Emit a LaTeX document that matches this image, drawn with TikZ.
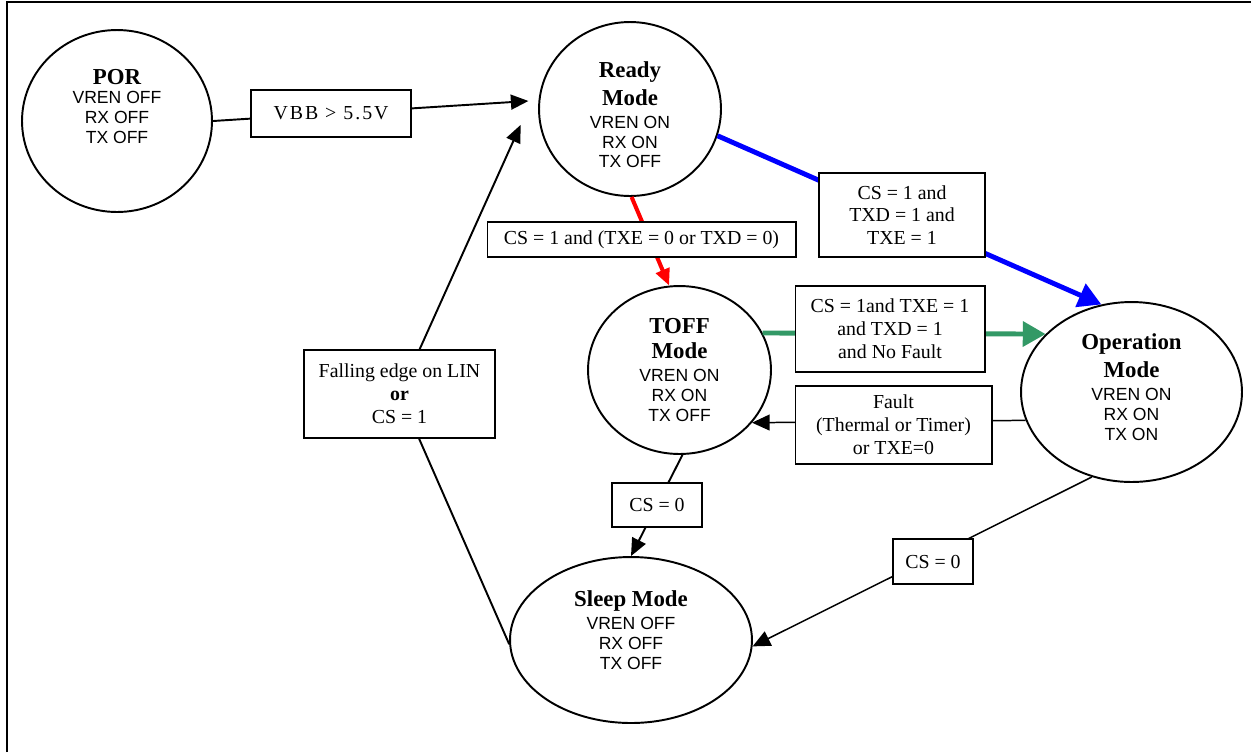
\documentclass[tikz,border=0pt]{standalone}
\usepackage{fontspec}
\setmainfont{Liberation Serif}
\newfontfamily\arial{Liberation Sans}
\usetikzlibrary{arrows.meta, shapes.geometric, calc}
\definecolor{opgreen}{RGB}{51,153,102}
\tikzset{st/.style = {ellipse, draw, line width=1.1pt, inner sep=0pt, align=center, font=\arial\fontsize{10}{11.2}\selectfont}}
\tikzset{lbl/.style = {rectangle, draw, line width=0.6pt, fill=white, inner sep=0pt, align=center, font=\fontsize{11.3}{13}\selectfont}}
\tikzset{tr/.style = {-{Triangle[length=10pt,width=8.5pt]}, line width=1.1pt}}
\tikzset{trthin/.style = {-{Triangle[length=10pt,width=9pt]}, line width=0.85pt}}
\tikzset{trbig/.style = {-{Triangle[length=13pt,width=14pt]}, line width=2.8pt}}
\newcommand{\sthead}[1]{{\rmfamily\bfseries\fontsize{13}{15}\selectfont #1}}

\begin{document}
\begin{tikzpicture}[x=0.02cm, y=-0.02cm]
\useasboundingbox (0,0) rectangle (1251,752);
\draw[line width=1.2pt] (7,752) -- (7,2) -- (1251,2);

\node[st, minimum width=3.8cm, minimum height=3.64cm] (por) at (117,121) {\sthead{POR}\\VREN OFF\\RX OFF\\TX OFF\rule[-0.6cm]{0pt}{0.6cm}};
\node[st, minimum width=3.64cm, minimum height=3.48cm] (rdy) at (630,109) {\rule{0pt}{0.55cm}\sthead{Ready}\\[3pt]\sthead{Mode}\\[2pt]VREN ON\\RX ON\\TX OFF};
\node[st, minimum width=3.66cm, minimum height=3.36cm] (toff) at (679.5,370) {\sthead{TOFF}\\[3pt]\sthead{Mode}\\[2pt]VREN ON\\RX ON\\TX OFF};
\node[st, minimum width=4.42cm, minimum height=3.6cm] (oper) at (1131.5,392) {\sthead{Operation}\\[3pt]\sthead{Mode}\\[2pt]VREN ON\\RX ON\\TX ON\rule[-0.2cm]{0pt}{0.2cm}};
\node[st, minimum width=4.84cm, minimum height=3.32cm] (slp) at (631,640) {\sthead{Sleep Mode}\\[2pt]VREN OFF\\RX OFF\\TX OFF\rule[-0.4cm]{0pt}{0.4cm}};

\draw[tr] (por.east) -- (331,113.5) -- ([xshift=-0.2cm]rdy.175);
\draw[red, line width=2.3pt, -{Triangle[length=9.5pt,width=8pt]}] (rdy.-89) -- (toff.97);
\draw[trbig, blue] (rdy.-17) -- (oper.109);
\draw[trbig, opgreen] (toff.24) -- (oper.146);
\draw[trthin] (oper.195) -- (toff.-36);
\draw[tr] (toff.-88) -- (slp.north);
\draw[trthin] (oper.-115) -- (slp.-3);
\draw[tr] (slp.182) -- (399.5,394) -- ([xshift=-0.38cm]rdy.190);

\node[lbl, minimum width=3.2cm, minimum height=0.94cm] (lvbb) at (331,113.5) {\addfontfeature{LetterSpace=10}VBB > 5.5V};
\node[lbl, minimum width=6.18cm, minimum height=0.7cm] (ltxe) at (641.5,239.5) {CS = 1 and (TXE = 0 or TXD = 0)};
\node[lbl, minimum width=3.32cm, minimum height=1.68cm] (lblue) at (902,215) {CS = 1 and\\TXD = 1 and\\TXE = 1};
\node[lbl, minimum width=3.8cm, minimum height=1.72cm] (lgreen) at (890,329) {CS = 1and TXE = 1\\and TXD = 1\\and No Fault};
\node[lbl, minimum width=3.94cm, minimum height=1.56cm] (lfault) at (893.5,425) {Fault\\(Thermal or Timer)\\or TXE=0};
\node[lbl, minimum width=3.82cm, minimum height=1.76cm] (lfall) at (399.5,394) {Falling edge on LIN\\\textbf{or}\\CS = 1};
\node[lbl, minimum width=1.8cm, minimum height=0.88cm] (lcsa) at (657,505) {CS = 0};
\node[lbl, minimum width=1.6cm, minimum height=0.9cm] (lcsb) at (933,561.5) {CS = 0};
\end{tikzpicture}
\end{document}
